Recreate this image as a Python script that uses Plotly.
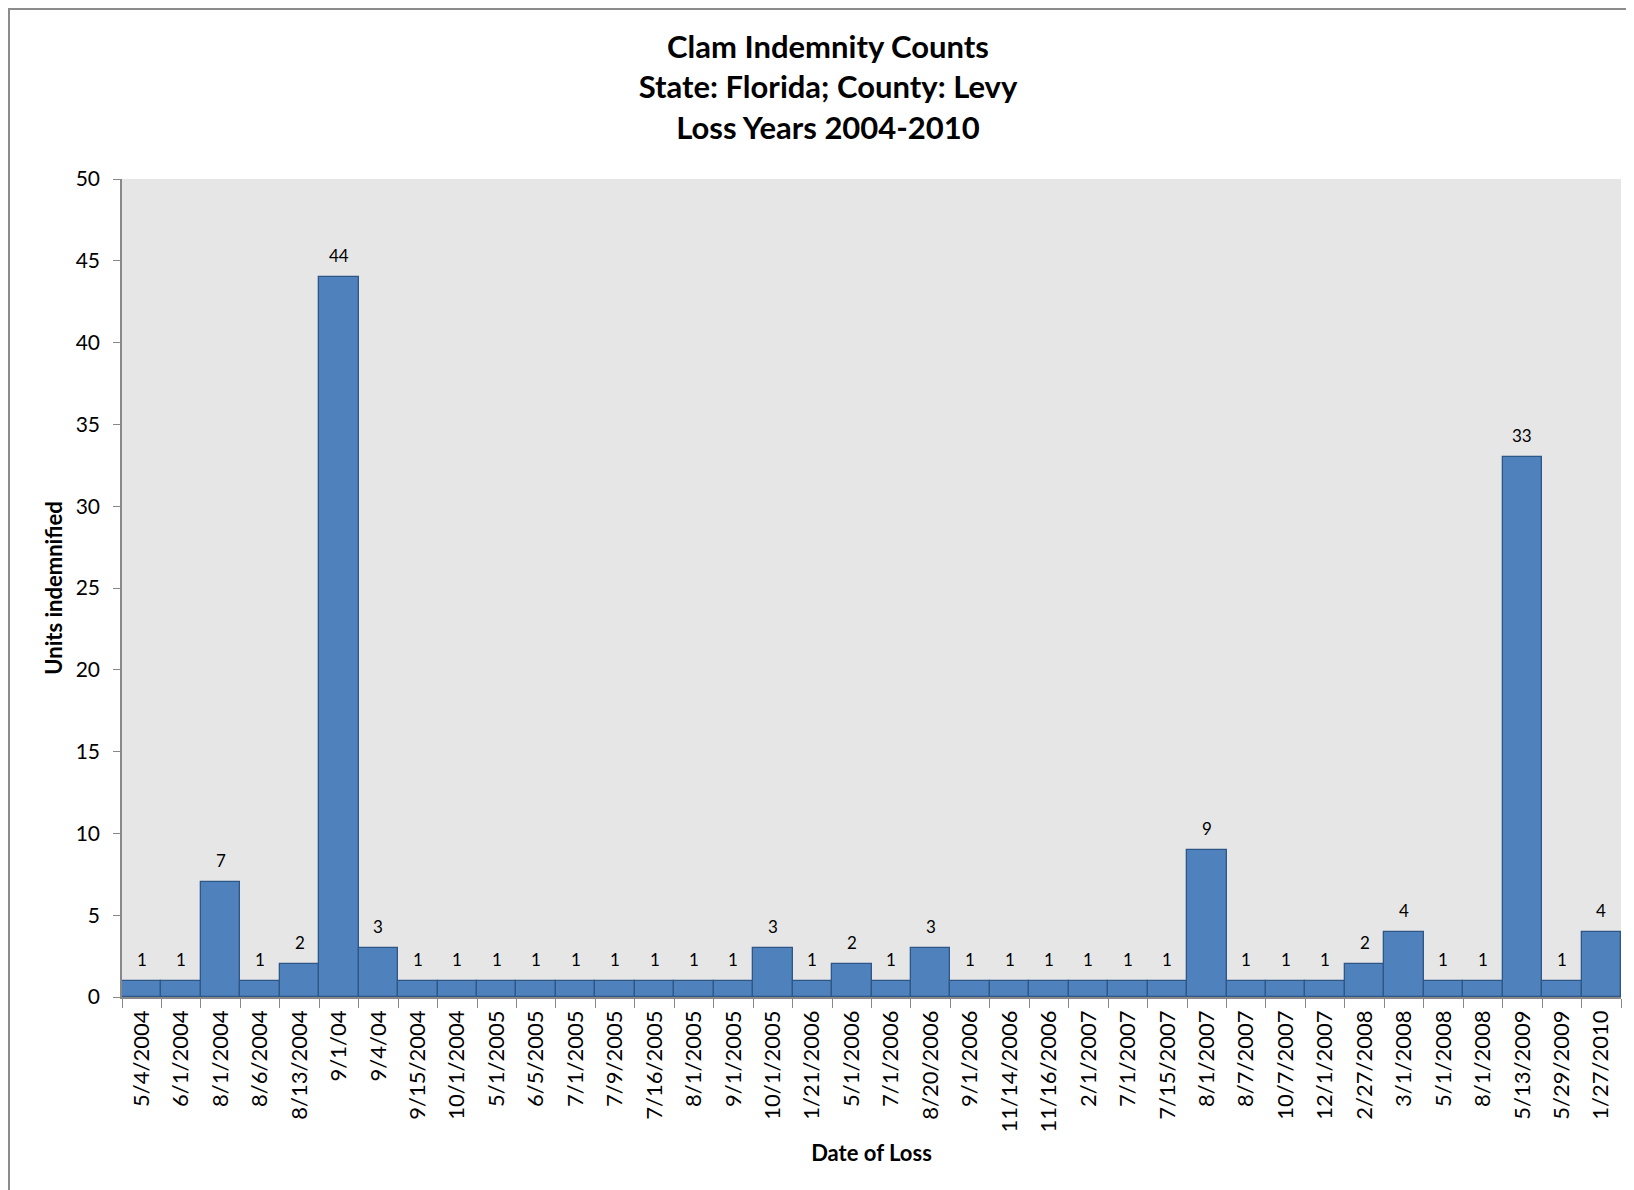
import plotly.graph_objects as go

dates = ["5/4/2004", "6/1/2004", "8/1/2004", "8/6/2004", "8/13/2004", "9/1/04", "9/4/04",
         "9/15/2004", "10/1/2004", "5/1/2005", "6/5/2005", "7/1/2005", "7/9/2005", "7/16/2005",
         "8/1/2005", "9/1/2005", "10/1/2005", "1/21/2006", "5/1/2006", "7/1/2006", "8/20/2006",
         "9/1/2006", "11/14/2006", "11/16/2006", "2/1/2007", "7/1/2007", "7/15/2007", "8/1/2007",
         "8/7/2007", "10/7/2007", "12/1/2007", "2/27/2008", "3/1/2008", "5/1/2008", "8/1/2008",
         "5/13/2009", "5/29/2009", "1/27/2010"]
units = [1, 1, 7, 1, 2, 44, 3, 1, 1, 1, 1, 1, 1, 1, 1, 1, 3, 1, 2, 1, 3, 1, 1, 1, 1, 1, 1, 9,
         1, 1, 1, 2, 4, 1, 1, 33, 1, 4]
y_ticks = [0, 5, 10, 15, 20, 25, 30, 35, 40, 45, 50]

FONT = "Lato, 'Open Sans', sans-serif"
# page has an 8px body margin; figure occupies the rest of the window
W, H = 1626, 1182
L, R, T, B = 114, 13, 171, 193
pw, ph = W - L - R, H - T - B

fig = go.Figure(go.Bar(
    x=dates, y=units,
    marker=dict(color="#4F81BD", line=dict(color="#2E5686", width=1.3)),
    showlegend=False,
))

# data labels above each bar
for d, v in zip(dates, units):
    fig.add_annotation(x=d, y=v, text=str(v), showarrow=False,
                       yanchor="bottom", yshift=9,
                       font=dict(size=17, color="black", family=FONT))

fig.update_layout(
    width=W, height=H,
    margin=dict(l=L, r=R, t=T, b=B),
    paper_bgcolor="white", plot_bgcolor="#E6E6E6",
    bargap=0,
    showlegend=False,
    font=dict(family=FONT, color="black"),
    title=dict(
        text="<b>Clam Indemnity Counts<br>State: Florida; County: Levy<br>Loss Years 2004-2010</b>",
        x=820 / W, xanchor="center", y=1 - 50 / H, yanchor="top",
        font=dict(size=31, family=FONT, color="black"),
    ),
    xaxis=dict(
        type="category", tickangle=-90, tickson="boundaries",
        ticks="outside", ticklen=9, tickcolor="#888888",
        showline=True, linecolor="#888888", linewidth=1.5,
        showgrid=False, tickfont=dict(size=22, family=FONT, color="black"),
        ticklabelstandoff=3,
        title=dict(text="<b>Date of Loss</b>", font=dict(size=22, family=FONT), standoff=14),
    ),
    yaxis=dict(
        range=[0, 50], tickvals=y_ticks, ticks="outside", ticklen=7, tickcolor="#888888",
        showline=True, linecolor="#888888", linewidth=1.5,
        showgrid=False, zeroline=False, tickfont=dict(size=21, family=FONT, color="black"),
        ticklabelstandoff=9,
        title=dict(text="<b>Units indemnified</b>", font=dict(size=22, family=FONT), standoff=7),
    ),
)

# outer chart border (Excel chart area frame)
fig.add_shape(type="rect", xref="paper", yref="paper",
              x0=(1 - L) / pw, x1=(W + 20 - L) / pw,
              y0=-(B + 20) / ph, y1=1 + (T - 1) / ph,
              line=dict(color="#8C8C8C", width=2), fillcolor="rgba(0,0,0,0)", layer="below")

fig.write_html("out.html")
